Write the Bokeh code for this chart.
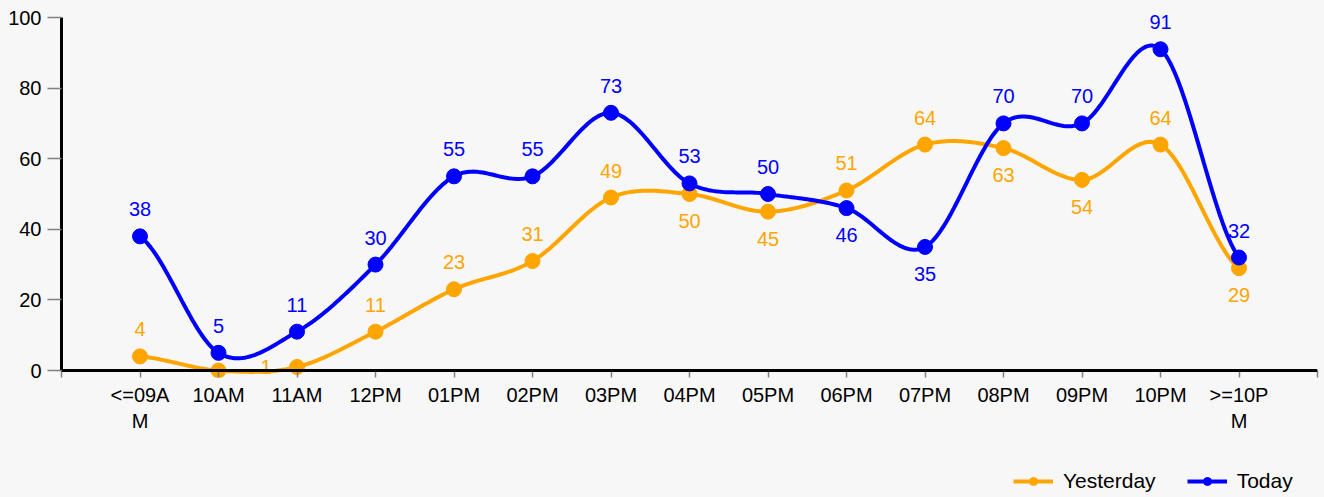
import numpy as np
from bokeh.plotting import figure
from bokeh.layouts import column
from bokeh.models import (ColumnDataSource, Range1d, FixedTicker, Span, LabelSet,
                          Legend, LegendItem)
from bokeh.core.properties import value
from bokeh.embed import file_html
from bokeh.resources import INLINE

# ---------------- data ----------------
categories = ["<=09AM", "10AM", "11AM", "12PM", "01PM", "02PM", "03PM", "04PM",
              "05PM", "06PM", "07PM", "08PM", "09PM", "10PM", ">=10PM"]
tick_labels = ["<=09A\nM", "10AM", "11AM", "12PM", "01PM", "02PM", "03PM", "04PM",
               "05PM", "06PM", "07PM", "08PM", "09PM", "10PM", ">=10P\nM"]
yesterday = [4, 0, 1, 11, 23, 31, 49, 50, 45, 51, 64, 63, 54, 64, 29]
today = [38, 5, 11, 30, 55, 55, 73, 53, 50, 46, 35, 70, 70, 91, 32]
y_ticks = [0, 20, 40, 60, 80, 100]

# label placement (style): a = above, b = below, l = left, n = none
yesterday_place = ["a", "n", "l", "a", "a", "a", "a", "b", "b", "a", "a", "b", "b", "a", "b"]
today_place = ["a", "a", "a", "a", "a", "a", "a", "a", "a", "b", "b", "a", "a", "a", "a"]

ORANGE = "#FFA500"
BLUE = "#0000FF"
BG = "#f7f7f7"
FONT = "Liberation Sans"


def catmull_rom(vals, n=30):
    """Smooth rendering path (uniform Catmull-Rom) through the data points."""
    v = list(vals)
    m = len(v)
    tang = []
    for i in range(m):
        a = v[i - 1] if i > 0 else v[i]
        b = v[i + 1] if i < m - 1 else v[i]
        tang.append((b - a) / 2.0)
    xs, ys = [], []
    for i in range(m - 1):
        t = np.linspace(0, 1, n, endpoint=(i == m - 2))
        h00 = 2 * t**3 - 3 * t**2 + 1
        h10 = t**3 - 2 * t**2 + t
        h01 = -2 * t**3 + 3 * t**2
        h11 = t**3 - t**2
        xs.extend(list(i + t))
        ys.extend(list(h00 * v[i] + h10 * tang[i] + h01 * v[i + 1] + h11 * tang[i + 1]))
    return xs, ys


idx = list(range(len(categories)))

# geometry (pixels): value 0 at y=370, value 100 at y=17
ppu = 353.0 / 100.0
y_start = -7.0 / ppu
y_end = 100 + 17.0 / ppu
MAIN_H = 462
LEG_H = 497 - MAIN_H
LEFT = 61
RIGHT = 7

fig = figure(width=1324, height=MAIN_H, output_backend="svg", toolbar_location=None,
             x_range=Range1d(-1, len(categories)), y_range=Range1d(y_start, y_end),
             min_border_left=LEFT, min_border_right=RIGHT, min_border_top=0,
             min_border_bottom=MAIN_H - 377, background_fill_color=BG,
             border_fill_color=BG, outline_line_color=None)
fig.xgrid.visible = False
fig.ygrid.visible = False

# x axis
xa = fig.xaxis[0]
xa.ticker = FixedTicker(ticks=list(range(-1, len(categories) + 1)))
overrides = {i: tick_labels[i] for i in idx}
overrides[-1] = ""
overrides[len(categories)] = ""
xa.major_label_overrides = overrides
xa.axis_line_color = None
xa.major_tick_in = 7
xa.major_tick_out = 0
xa.major_tick_line_color = "#808080"
xa.major_tick_line_width = 1.5
xa.minor_tick_line_color = None
xa.major_label_standoff = 6
xa.major_label_text_font = FONT
xa.major_label_text_font_size = "20px"
xa.major_label_text_color = "#000000"

# y axis
ya = fig.yaxis[0]
ya.ticker = FixedTicker(ticks=y_ticks)
ya.bounds = (0, 100)
ya.axis_line_width = 3
ya.axis_line_color = "#000000"
ya.major_tick_out = 14
ya.major_tick_in = 0
ya.major_tick_line_color = "#808080"
ya.major_tick_line_width = 1.5
ya.minor_tick_line_color = None
ya.major_label_standoff = 6
ya.major_label_text_font = FONT
ya.major_label_text_font_size = "20px"
ya.major_label_text_color = "#000000"


def add_series(vals, place, color):
    xs, ys = catmull_rom(vals)
    fig.line(xs, ys, line_width=4, line_color=color)
    fig.scatter(idx, vals, size=15, fill_color=color, line_color=color)
    lx, ly, lt, xo, yo = [], [], [], [], []
    for i, (val, pl) in enumerate(zip(vals, place)):
        if pl == "n":
            continue
        lx.append(i)
        ly.append(val)
        lt.append(str(val))
        if pl == "a":
            xo.append(0); yo.append(27)
        elif pl == "b":
            xo.append(0); yo.append(-27)
        else:
            xo.append(-31); yo.append(0)
    src = ColumnDataSource(dict(x=lx, y=ly, t=lt, xo=xo, yo=yo))
    labels = LabelSet(x="x", y="y", text="t", x_offset="xo", y_offset="yo", source=src,
                      text_align="center", text_baseline="middle",
                      text_font=value(FONT), text_font_size=value("20px"),
                      text_color=color, level="underlay")
    fig.add_layout(labels)


add_series(yesterday, yesterday_place, ORANGE)
add_series(today, today_place, BLUE)

# x axis line at zero
fig.add_layout(Span(location=0, dimension="width", line_color="#000000", line_width=3))

# ---------------- legend strip ----------------
leg = figure(width=1324, height=LEG_H, output_backend="svg", toolbar_location=None,
             x_range=Range1d(0, 10), y_range=Range1d(0, 10),
             x_axis_type=None, y_axis_type=None,
             min_border_left=LEFT, min_border_right=RIGHT, min_border_top=0,
             min_border_bottom=0, background_fill_color=BG, border_fill_color=BG,
             outline_line_color=None)
# off-screen stand-in renderers: only used to draw the legend keys
ly_line = leg.line([-5, -4], [-5, -5], line_color=ORANGE, line_width=4)
ly_dot = leg.scatter([-5], [-5], size=10, fill_color=ORANGE, line_color=ORANGE)
lt_line = leg.line([-5, -4], [-5, -5], line_color=BLUE, line_width=4)
lt_dot = leg.scatter([-5], [-5], size=4, fill_color=BLUE, line_color=BLUE)
legend = Legend(items=[LegendItem(label="Yesterday", renderers=[ly_line, ly_dot]),
                       LegendItem(label="Today", renderers=[lt_line, lt_dot])],
                orientation="horizontal", location=(1013 - LEFT, 4),
                glyph_width=40, glyph_height=20, label_height=20, label_standoff=10,
                spacing=31, padding=0, margin=0, border_line_color=None,
                background_fill_alpha=0, label_text_font=FONT,
                label_text_font_size="21px", label_text_color="#000000")
leg.add_layout(legend, "center")

p = column(fig, leg, spacing=0, styles={"background-color": BG})

open("out.html", "w").write(file_html(p, INLINE))
